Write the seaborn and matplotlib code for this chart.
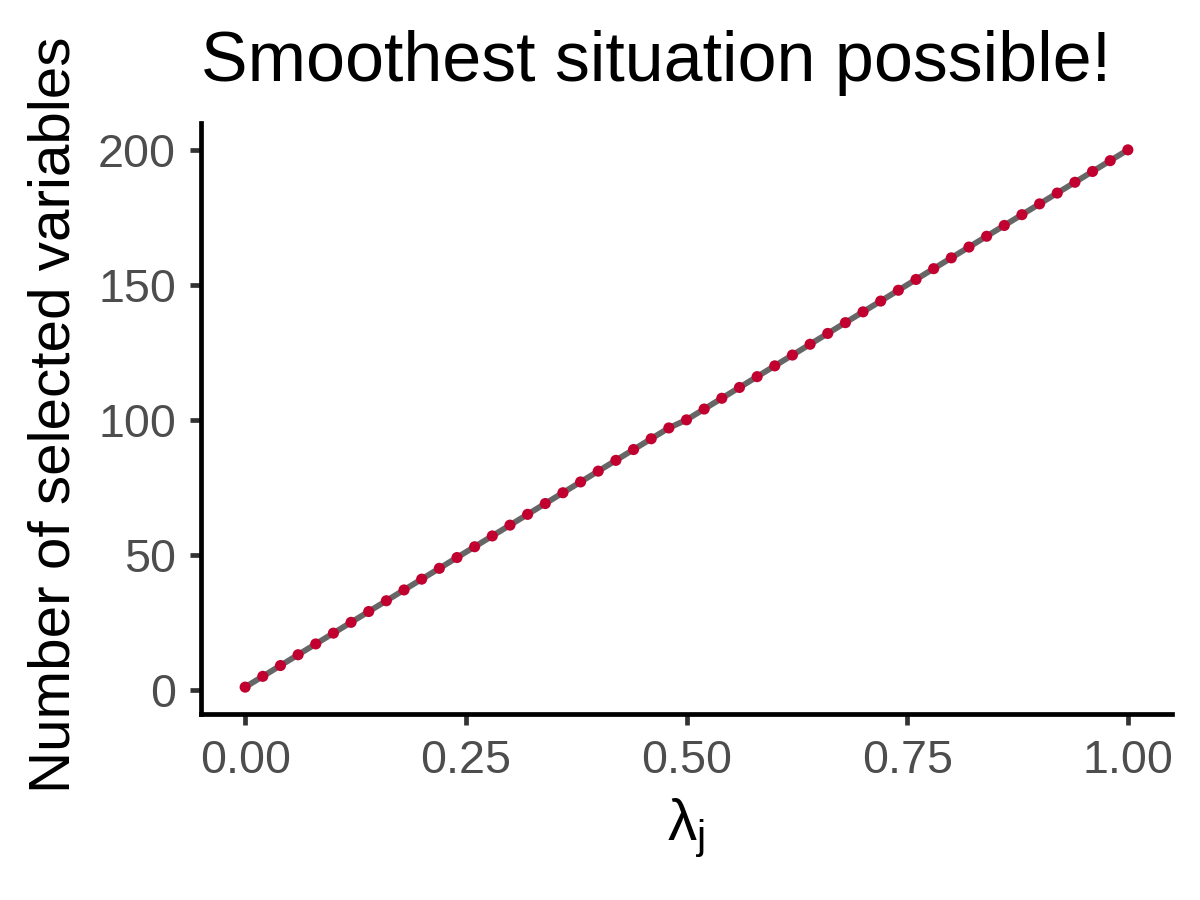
import matplotlib
matplotlib.use("Agg")
import matplotlib.pyplot as plt
import seaborn as sns
import pandas as pd

lambda_j = [0.00, 0.02, 0.04, 0.06, 0.08, 0.10, 0.12, 0.14, 0.16, 0.18,
            0.20, 0.22, 0.24, 0.26, 0.28, 0.30, 0.32, 0.34, 0.36, 0.38,
            0.40, 0.42, 0.44, 0.46, 0.48, 0.50, 0.52, 0.54, 0.56, 0.58,
            0.60, 0.62, 0.64, 0.66, 0.68, 0.70, 0.72, 0.74, 0.76, 0.78,
            0.80, 0.82, 0.84, 0.86, 0.88, 0.90, 0.92, 0.94, 0.96, 0.98, 1.00]
n_selected = [1, 5, 9, 13, 17, 21, 25, 29, 33, 37,
              41, 45, 49, 53, 57, 61, 65, 69, 73, 77,
              81, 85, 89, 93, 97, 100, 104, 108, 112, 116,
              120, 124, 128, 132, 136, 140, 144, 148, 152, 156,
              160, 164, 168, 172, 176, 180, 184, 188, 192, 196, 200]
x_ticks = [0.00, 0.25, 0.50, 0.75, 1.00]
x_tick_labels = ["0.00", "0.25", "0.50", "0.75", "1.00"]
y_ticks = [0, 50, 100, 150, 200]
y_tick_labels = ["0", "50", "100", "150", "200"]

df = pd.DataFrame({"lambda": lambda_j, "n": n_selected})

sns.set_theme(style="white")
plt.rcParams["font.family"] = ["Liberation Sans", "DejaVu Sans"]
plt.rcParams["mathtext.fontset"] = "custom"
plt.rcParams["mathtext.rm"] = "Liberation Sans"
plt.rcParams["mathtext.it"] = "Liberation Sans:italic"

fig = plt.figure(figsize=(12, 9), dpi=100)
ax = fig.add_axes([201 / 1200, 1 - 714 / 900, (1172 - 201) / 1200, (714 - 123) / 900])

sns.lineplot(data=df, x="lambda", y="n", ax=ax, color="#666666", linewidth=4.2)
sns.scatterplot(data=df, x="lambda", y="n", ax=ax, color="#C20030", s=64,
                edgecolor="none", zorder=3)

xr = max(lambda_j) - min(lambda_j)
yr = max(n_selected) - min(n_selected)
ax.set_xlim(min(lambda_j) - 0.05 * xr, max(lambda_j) + 0.05 * xr)
ax.set_ylim(min(n_selected) - 0.05 * yr, max(n_selected) + 0.05 * yr)

ax.set_xticks(x_ticks)
ax.set_xticklabels(x_tick_labels)
ax.set_yticks(y_ticks)
ax.set_yticklabels(y_tick_labels)
ax.set_xlabel("")
ax.set_ylabel("")

for side in ["top", "right"]:
    ax.spines[side].set_visible(False)
for side in ["left", "bottom"]:
    ax.spines[side].set_color("black")
    ax.spines[side].set_linewidth(3.4)
    ax.spines[side].set_capstyle("projecting")

ax.tick_params(axis="both", which="major", length=8, width=3.4, color="#333333",
               labelsize=33.6, labelcolor="#4D4D4D", pad=10, direction="out",
               left=True, bottom=True)
ax.grid(False)

fig.text(201 / 1200, 1 - 81 / 900, "Smoothest situation possible!", fontsize=50.4,
         color="black", ha="left", va="baseline")
fig.text(28 / 1200, 1 - 415 / 900, "Number of selected variables", fontsize=42,
         rotation=90, color="black", ha="left", va="center")
fig.text(686 / 1200, 1 - 840 / 900, r"λ$_{\mathrm{j}}$", fontsize=42,
         color="black", ha="center", va="baseline")

fig.savefig("out.png", dpi=100, facecolor="white")
